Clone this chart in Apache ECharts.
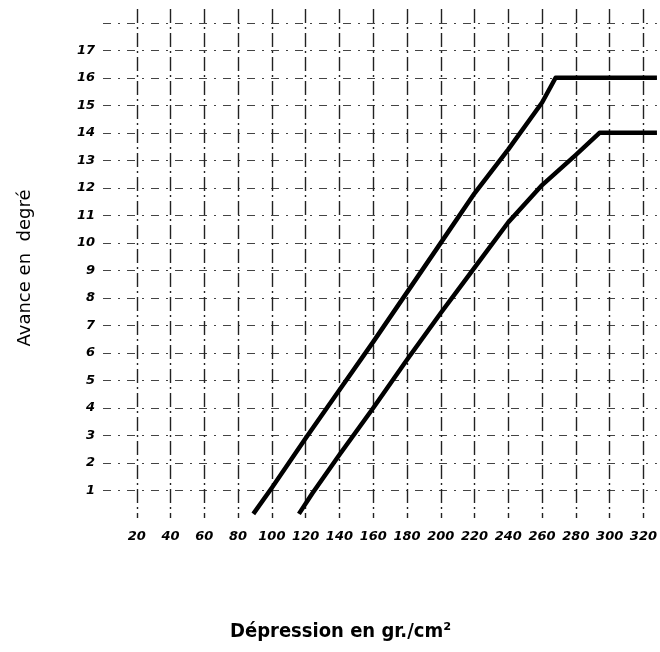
<!DOCTYPE html>
<html><head><meta charset="utf-8">
<script src="https://cdn.jsdelivr.net/npm/echarts@6/dist/echarts.min.js"></script>
<style>html,body{margin:0;padding:0;background:#fff}#c{width:660px;height:652px}</style>
</head><body><div id="c"></div>
<script>
// Dépression (gr./cm²) vs Avance (degrés)
const upperX = [89, 100, 120, 140, 160, 180, 200, 220, 240, 260, 268, 328];
const upperY = [0.15, 1.1, 2.9, 4.65, 6.4, 8.2, 10, 11.8, 13.4, 15.1, 16, 16];
const lowerX = [116, 124, 140, 160, 180, 200, 220, 240, 260, 280, 294, 328];
const lowerY = [0.15, 0.9, 2.3, 4.0, 5.75, 7.45, 9.1, 10.75, 12.1, 13.2, 14, 14];
const xTickLabels = [20, 40, 60, 80, 100, 120, 140, 160, 180, 200, 220, 240, 260, 280, 300, 320];
const yTickLabels = [1, 2, 3, 4, 5, 6, 7, 8, 9, 10, 11, 12, 13, 14, 15, 16, 17];
const xTitle = 'Dépression en gr./cm²';
const yTitle = 'Avance en  degré';

const chart = echarts.init(document.getElementById('c'));
const pair = (xs, ys) => xs.map((x, i) => [x, ys[i]]);
const lblFont = {fontFamily: 'DejaVu Sans', fontStyle: 'italic', fontWeight: 'bold', color: '#000'};
chart.setOption({
  animation: false,
  backgroundColor: '#fff',
  grid: {left: 103, right: 0, top: 9, bottom: 134},
  graphic: [
    {type: 'text', left: 230, top: 622,
     style: {text: xTitle, fontFamily: 'DejaVu Sans Condensed', fontSize: 20, fontWeight: 'bold', fill: '#000'}},
    {type: 'text', x: 25, y: 268, rotation: Math.PI / 2,
     style: {text: yTitle, fontFamily: 'DejaVu Sans', fontSize: 18, fill: '#000', align: 'center', verticalAlign: 'middle'}}
  ],
  xAxis: {
    type: 'value', min: 0, max: 328, interval: 20,
    axisLine: {show: false}, axisTick: {show: false},
    axisLabel: Object.assign({fontSize: 13, margin: 12,
      formatter: v => xTickLabels.includes(v) ? String(v) : ''}, lblFont),
    splitLine: {show: true, showMinLine: false, showMaxLine: false,
      lineStyle: {color: '#222', width: 1.4, type: [14, 4, 2, 4]}}
  },
  yAxis: {
    type: 'value', min: 0, max: 18.5, interval: 1,
    axisLine: {show: false}, axisTick: {show: false},
    axisLabel: Object.assign({fontSize: 13, margin: 8,
      formatter: v => yTickLabels.includes(v) ? String(v) : ''}, lblFont),
    splitLine: {show: true, showMinLine: false, showMaxLine: false,
      lineStyle: {color: '#444', width: 1, type: [8, 7, 2, 7]}}
  },
  series: [
    {type: 'line', data: pair(upperX, upperY), symbol: 'none', clip: true,
     lineStyle: {color: '#000', width: 4.5, join: 'round'}},
    {type: 'line', data: pair(lowerX, lowerY), symbol: 'none', clip: true,
     lineStyle: {color: '#000', width: 4.5, join: 'round'}}
  ]
});
</script></body></html>
